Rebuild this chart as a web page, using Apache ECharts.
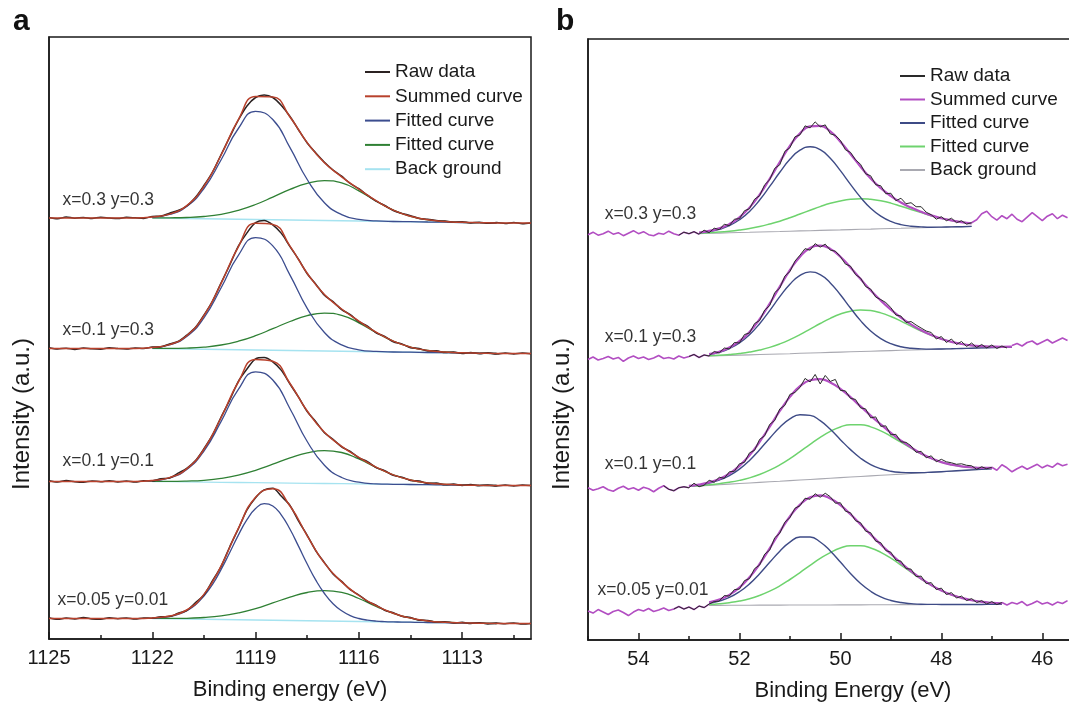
<!DOCTYPE html>
<html lang="en">
<head>
<meta charset="utf-8">
<title>XPS peak fits</title>
<script src="https://cdn.jsdelivr.net/npm/echarts@6.0.0/dist/echarts.min.js"></script>
<style>
    html, body { margin: 0; padding: 0; background: #fff; overflow: hidden; }
    /* the right panel's axis runs past the window edge, as in the cropped figure */
    #chart { width: 1130px; height: 707px; }
</style>
</head>
<body>
<div id="chart"></div>
<script>
// ---------- panel a : binding energy 1125 -> 1111 eV (offset stack, a.u.) ----------
var aX = [1125,1124.5,1124,1123.5,1123,1122.5,1122,1121.5,1121,1120.5,1120,1119.5,1119,1118.5,1118,1117.5,1117,1116.5,1116,1115.5,1115,1114.5,1114,1113.5,1113,1112.5,1112,1111.5,1111];
var aFitX = [1122,1121.5,1121,1120.5,1120,1119.5,1119,1118.5,1118,1117.5,1117,1116.5,1116,1115.5,1115,1114.5,1114,1113.5,1113,1112.5,1112];
var aFineX = [1122,1121.75,1121.5,1121.25,1121,1120.75,1120.5,1120.25,1120,1119.75,1119.5,1119.25,1119,1118.75,1118.5,1118.25,1118,1117.75,1117.5,1117.25,1117,1116.75,1116.5,1116.25,1116,1115.75,1115.5,1115.25,1115,1114.75,1114.5,1114.25,1114,1113.75,1113.5,1113.25,1113,1112.75,1112.5,1112.25,1112];
var aRawX = [1125,1124.75,1124.5,1124.25,1124,1123.75,1123.5,1123.25,1123,1122.75,1122.5,1122.25,1122,1121.75,1121.5,1121.25,1121,1120.75,1120.5,1120.25,1120,1119.75,1119.5,1119.25,1119,1118.75,1118.5,1118.25,1118,1117.75,1117.5,1117.25,1117,1116.75,1116.5,1116.25,1116,1115.75,1115.5,1115.25,1115,1114.75,1114.5,1114.25,1114,1113.75,1113.5,1113.25,1113,1112.75,1112.5,1112.25,1112,1111.75,1111.5,1111.25,1111];

// x=0.3 y=0.3
var aRaw1 = [421.5,420.3,422,420.8,421.6,420.5,421.8,421,420.4,421.7,421.2,420.6,422.5,423,425.8,428.5,433,441.5,453.5,467,484.5,502,519,533,541.5,544,541.5,533.5,522.5,509,496,486,476.8,469,462.8,455.5,450.3,443.8,437.8,433.5,428.5,425.6,423.4,420.6,419.8,418.4,417.9,416.8,417.3,416,416.8,415.7,416.4,415.5,416.6,415.2,416];
var aSum1 = [421,421,421,421,421,421,422.0,424.9,433.4,452.7,484.0,519.4,542.6,542.1,522.0,496.4,476.2,462.2,449.8,438.3,428.9,422.7,419.2,417.5,416.7,416.3,416.0,416,416];
var aFitB1 = [421.9,424.5,432.4,450.5,479.3,510.5,527.6,519.5,491.4,459.5,436.3,424.4,419.6,418.1,417.5,417.3,417.0,416.8,416.5,416.3,416.0];
var aFitG1 = [421.1,421.2,421.5,422.5,424.7,428.7,434.5,441.9,449.6,455.7,458.4,456.1,448.2,438.0,428.9,422.7,419.2,417.5,416.7,416.3,416.0];
var aBg1 = [421,420.75,420.5,420.25,420,419.75,419.5,419.25,419,418.75,418.5,418.25,418,417.75,417.5,417.25,417,416.75,416.5,416.25,416];

// x=0.1 y=0.3
var aRaw2 = [291.2,290,290.8,289.6,291,290.2,289.8,291.3,290.4,289.9,291.1,290.6,291.9,292.2,295,297.6,303.8,311.4,323.9,338,356.2,374,392.8,406.1,416.3,418.6,414.2,405.6,392.4,379.6,365.2,354.9,343.8,337.3,329.4,324.4,317.3,312.9,306.2,302.7,297.3,295.1,291.3,290.6,288,288.2,286.4,287.1,285.6,286.6,285.2,286.2,284.9,285.9,285.1,286,285.3];
var aSum2 = [290.5,290.5,290.5,290.5,290.5,290.5,291.5,294.4,303.3,323.3,355.7,392.2,415.7,414.6,392.9,365.8,344.4,330.0,317.9,306.8,297.9,291.9,288.6,287.0,286.2,285.8,285.5,285.5,285.5];
var aFitB2 = [291.4,294.1,302.4,321.2,351.2,383.7,401.4,393.1,363.9,330.7,306.5,294.1,289.2,287.6,287.0,286.8,286.5,286.3,286.0,285.8,285.5];
var aFitG2 = [290.6,290.6,290.9,291.9,294.0,297.8,303.3,310.3,317.5,323.4,325.9,323.7,316.2,306.5,297.9,291.9,288.6,287.0,286.2,285.8,285.5];
var aBg2 = [290.5,290.25,290,289.75,289.5,289.25,289,288.75,288.5,288.25,288,287.75,287.5,287.25,287,286.75,286.5,286.25,286,285.75,285.5];

// x=0.1 y=0.1
var aRaw3 = [158.2,157,158.4,157.3,156.8,158.1,157.2,158.3,157,157.9,156.9,158.2,158,160.2,160.9,165.8,170.7,178.2,190.3,204.1,222,239,257.6,270,280.2,281.5,277.2,268.6,255,241.8,227.5,217.3,206.2,199.6,192.2,187.5,181.2,177.3,171.4,168.4,163.6,161.9,158.5,157.9,155.6,155.9,154.2,154.9,153.6,154.4,153.2,154.1,153,153.9,153.1,154,153.4];
var aSum3 = [157.5,157.5,157.5,157.5,157.5,157.5,158.5,161.4,170.2,189.7,221.5,257.0,279.6,277.7,255.5,228.0,206.7,192.7,181.7,171.9,164.1,159.0,156.1,154.7,154.1,153.7,153.5,153.5,153.5];
var aFitB3 = [158.4,161.1,169.4,187.9,217.6,249.6,267.2,259.0,230.3,197.5,173.8,161.5,156.8,155.2,154.7,154.5,154.3,154.1,153.9,153.7,153.5];
var aFitG3 = [157.6,157.6,157.9,158.7,160.6,163.9,168.7,174.8,181.1,186.2,188.4,186.5,180.0,171.6,164.1,159.0,156.1,154.7,154.1,153.7,153.5];
var aBg3 = [157.5,157.3,157.1,156.9,156.7,156.5,156.3,156.1,155.9,155.7,155.5,155.3,155.1,154.9,154.7,154.5,154.3,154.1,153.9,153.7,153.5];

// x=0.05 y=0.01 (main component read on the finer grid, its top sits between 0.5 eV steps)
var aRaw4 = [21.3,19.8,20.9,20,21.4,20.1,19.7,21.2,20.3,21,19.9,21.1,20.7,22.3,22.4,25.9,28.5,36.2,44.1,58.3,72.7,92.3,110.2,129.1,141.3,149.1,150.8,142.7,133.5,117.8,103.7,88.2,76.4,65.1,57.6,49.3,44,37.7,33.9,28.8,26.3,22.6,21.4,18.8,18.6,16.9,17.3,16,16.7,15.5,16.3,15.1,16,15.2,16.1,14.9,15.6];
var aSum4 = [20.5,20.5,20.5,20.5,20.5,20.5,21.1,22.9,29.0,44.6,73.2,110.7,141.8,150.3,133.0,103.2,75.9,57.1,43.5,33.4,25.8,20.9,18.1,16.8,16.2,15.8,15.5,15.5,15.5];
var aFitB4 = [21.0,21.5,22.6,24.6,28.3,34.1,42.9,54.6,69.6,86.5,103.9,119.3,130.4,135.3,133.0,123.9,109.7,92.6,75.0,58.8,45.5,35.3,28.2,23.4,20.5,18.9,17.9,17.4,17.1,16.9,16.8,16.6,16.5,16.4,16.3,16.1,16.0,15.9,15.8,15.6,15.5];
var aFitG4 = [20.6,20.6,20.7,21.5,23.1,26.1,30.4,36.1,41.8,46.5,48.4,46.7,40.5,32.7,25.7,20.9,18.1,16.8,16.2,15.8,15.5];
var aBg4 = [20.5,20.25,20,19.75,19.5,19.25,19,18.75,18.5,18.25,18,17.75,17.5,17.25,17,16.75,16.5,16.25,16,15.75,15.5];

var aMajor = [1125,1122,1119,1116,1113];
var aMinor = [1123.5,1120.5,1117.5,1114.5,1111.5];
var aLabelText = ['x=0.3 y=0.3','x=0.1 y=0.3','x=0.1 y=0.1','x=0.05 y=0.01'];
var aLabelX = [1124.62,1124.62,1124.62,1124.77];
var aLabelY = [439,309,178,39];

// ---------- panel b : binding energy 55 -> 45.5 eV ----------
var bX = [55,54.9,54.8,54.7,54.6,54.5,54.4,54.3,54.2,54.1,
    54,53.9,53.8,53.7,53.6,53.5,53.4,53.3,53.2,53.1,
    53,52.9,52.8,52.7,52.6,52.5,52.4,52.3,52.2,52.1,
    52,51.9,51.8,51.7,51.6,51.5,51.4,51.3,51.2,51.1,
    51,50.9,50.8,50.7,50.6,50.5,50.4,50.3,50.2,50.1,
    50,49.9,49.8,49.7,49.6,49.5,49.4,49.3,49.2,49.1,
    49,48.9,48.8,48.7,48.6,48.5,48.4,48.3,48.2,48.1,
    48,47.9,47.8,47.7,47.6,47.5,47.4,47.3,47.2,47.1,
    47,46.9,46.8,46.7,46.6,46.5,46.4,46.3,46.2,46.1,
    46,45.9,45.8,45.7,45.6,45.5];
var bFitX = [53,52.8,52.6,52.4,52.2,52,51.8,51.6,51.4,51.2,51,50.8,50.6,50.4,50.2,50,49.8,49.6,49.4,49.2,49,48.8,48.6,48.4,48.2,48,47.8,47.6,47.4,47.2,47,46.8,46.6];

// x=0.3 y=0.3
var bRaw1 = [406,408.5,405.5,407,409.5,406.5,408,405,407.5,410,407,409,406,405,407.5,406.5,409.5,407,405.5,408.5,407,
    409,406.5,410.5,408,412.5,411,416.5,415,421.5,422,430,432,441.5,445,456,461,472.5,476,489.5,493,504,506,515,513,519,514,516,507,505.5,500.5,491,488.5,481,476.5,467,465,456,455,447,447.5,440,442.5,437,438,434,434,428.5,426,421.5,424,420,422.5,418,420,416.5,418,
    421,427,429.5,424,420.5,425,422,426.5,421.5,419,423.5,428,424,420,424.5,427,422,425.5,423];
var bSum1 = [null,408.2,409.8,412.3,416.6,423.4,433.1,446.2,462.0,478.8,494.9,507.5,514.4,514.9,509.4,499.1,486.8,474.1,462.3,452.6,444.7,438.2,433.1,428.9,425.3,422.5,420.3,418.6,417.4,null,null,null,null];
var bFitB1 = [null,407.9,409.2,411.3,415.0,420.9,429.3,440.7,454.3,468.5,481.5,490.6,494.0,491.1,482.6,470.1,456.4,443.4,432.5,424.6,419.3,416.1,414.5,413.8,413.5,413.6,413.8,414.0,414.3,null,null,null,null];
var bFitG1 = [null,407.4,408.0,408.6,409.5,410.7,412.2,414.2,416.7,419.5,422.9,426.7,430.4,434.1,437.4,439.8,441.5,442.1,441.4,439.9,437.6,434.5,431.3,428.1,425.0,422.4,420.3,418.6,417.4,null,null,null,null];
var bBg1 = [null,407.1,407.4,407.6,407.9,408.2,408.4,408.7,409.0,409.2,409.5,409.8,410.0,410.3,410.6,410.8,411.1,411.4,411.6,411.9,412.2,412.4,412.7,413.0,413.2,413.5,413.8,414.0,414.3,null,null,null,null];

// x=0.1 y=0.3
var bRaw2 = [281,283.5,280.5,282,284,281.5,283,279,282.5,284.5,282,283.5,281,282.5,285,282,283,281.5,284.5,282.5,284,286,283,285.5,
    284.5,289,287.5,292.5,291.5,298,297.5,306,307.5,317,320,330.5,335,348,352.5,364.5,369,379.5,385.5,392,390.5,397,393.5,396.5,390.5,389.5,384,376.5,374.5,366,362.5,354,351.5,343.5,341,338,333,325.5,324.5,318,319,315.5,312.5,309.5,308,301.5,304,298,301.5,296,299,294,297.5,293,296,292.5,295.5,292,294.5,292.5,295,
    297,294.5,298,299.5,296,298.5,301,297.5,300,302.5,300];
var bSum2 = [null,null,286.4,288.7,292.9,299.3,308.6,321.3,336.9,354.0,370.5,384.0,392.6,395.1,391.8,383.9,373.2,361.5,350.2,340.0,330.9,322.9,316.1,310.3,305.5,301.6,298.6,296.5,295.1,294.3,293.9,293.7,293.8];
var bFitB2 = [null,null,286.1,288.2,291.9,297.6,305.8,316.8,330.0,343.9,356.4,365.3,368.7,365.9,357.7,345.8,332.5,319.9,309.5,301.9,296.8,293.7,292.2,291.6,291.4,291.5,291.7,292.0,292.3,292.6,292.9,293.2,293.5];
var bFitG2 = [null,null,284.7,285.2,286.0,287.0,288.4,290.4,293.1,296.6,300.9,305.9,311.4,317.0,322.2,326.5,329.4,330.6,330.0,327.7,324.0,319.4,314.4,309.5,305.2,301.5,298.6,296.5,295.1,294.3,293.9,293.7,293.8];
var bBg2 = [null,null,284.4,284.7,285.0,285.3,285.6,285.9,286.2,286.5,286.8,287.2,287.5,287.8,288.1,288.4,288.7,289.0,289.3,289.6,289.9,290.2,290.5,290.8,291.1,291.4,291.7,292.0,292.3,292.6,292.9,293.2,293.5];

// x=0.1 y=0.1
var bRaw3 = [152.5,150,151.5,153.5,150.5,149,152,154,151,152.5,150,153,151.5,148.5,152,154.5,151,149.5,152.5,153.5,
    152.5,157,153.5,155,160,158,163,162,168.5,169,176.5,178,187.5,190,201,204.5,216,220,231.5,235,246,248,253,262,258.5,266,256.5,265,259,261,250,249.5,242,241,232.5,231.5,222.5,223.5,214,214.5,205.5,206,198.5,198,194.5,188,189,182.5,184.5,178.5,181,178.5,177.5,176,176.5,175,174.5,171,173.5,171.5,173,
    170,175.5,172.5,168.5,171.5,174,171,173.5,176,172.5,175,173,177,174.5,176];
var bSum3 = [154.4,155.7,157.9,161.3,166.6,174.4,185.0,198.5,213.7,229.4,243.5,254.2,260.2,261.3,258.0,251.5,243.2,234.0,224.8,216.0,207.5,199.8,192.9,186.8,182.0,178.2,175.6,173.9,172.9,172.4,172.4,null,null];
var bFitB3 = [154.2,155.4,157.3,160.2,164.7,171.2,179.9,190.6,202.1,213.0,221.4,225.6,225.0,219.7,211.0,200.7,190.7,182.1,175.7,171.5,169.0,167.9,167.6,167.7,168.1,168.6,169.2,169.8,170.4,171.0,171.6,null,null];
var bFitG3 = [153.9,154.6,155.5,156.6,158.0,159.9,162.4,165.8,170.1,175.4,181.7,188.8,196.0,203.0,209.0,213.4,215.7,215.7,213.5,209.5,204.1,198.1,192.1,186.5,181.9,178.2,175.6,173.9,172.9,172.4,172.4,null,null];
var bBg3 = [153.7,154.3,154.9,155.5,156.1,156.7,157.3,157.9,158.5,159.0,159.6,160.2,160.8,161.4,162.0,162.6,163.2,163.8,164.4,165.0,165.6,166.2,166.8,167.4,168.0,168.6,169.2,169.8,170.4,171.0,171.6,null,null];

// x=0.05 y=0.01
var bRaw4 = [29,27,30.5,28,25.5,28.5,30,27.5,24.5,28,30.5,29,31.5,28.5,30,32,29.5,31,33.5,31,33,30.5,34,32.5,
    36,38.5,39,44.5,44,50.5,51,59.5,61.5,71.5,75,86,90,102.5,107,118,122.5,132,134.5,142,141,146.5,143,147,143.5,137,137.5,129,127.5,119.5,117.5,109,107.5,99,97.5,89.5,88,80,79,71.5,71,63.5,64,56.5,57.5,50.5,52,45.5,47.5,42,44,39.5,41.5,37.5,39.5,36,38.5,35.5,37.5,
    35,37.5,36,38.5,34.5,36.5,39,36,37.5,35,38,36.5,39.5];
var bSum4 = [null,null,37.7,40.6,45.2,52.5,62.8,76.2,91.8,108.3,123.7,135.6,142.9,144.8,141.7,135.0,125.9,115.8,105.7,95.6,86.2,77.2,68.9,61.4,55.0,49.6,45.3,42.2,39.8,38.2,37.3,36.6,null];
var bFitB4 = [null,null,36.8,39.0,42.6,48.3,56.2,66.4,77.8,89.0,98.1,103.1,103.2,98.2,89.2,78.1,66.7,56.6,48.8,43.1,39.6,37.5,36.4,35.8,35.7,35.6,35.5,35.6,35.6,35.6,35.7,35.7,null];
var bFitG4 = [null,null,35.6,36.3,37.4,39.0,41.4,44.7,48.9,54.2,60.6,67.5,74.8,81.7,87.6,92.1,94.4,94.4,92.2,87.8,81.9,75.1,67.9,61.0,54.8,49.5,45.3,42.2,39.8,38.2,37.3,36.6,null];
var bBg4 = [null,null,34.7,34.7,34.8,34.8,34.8,34.9,34.9,34.9,35.0,35.0,35.1,35.1,35.1,35.2,35.2,35.2,35.3,35.3,35.3,35.4,35.4,35.4,35.5,35.5,35.5,35.6,35.6,35.6,35.7,35.7,null];

// fit window (high, low eV) and where the black raw trace is drawn
var bFitRange = [[52.8,47.4],[52.6,46.6],[53,47],[52.6,46.8]];
var bRawRange = [[53.2,47.4],[53,46.7],[53.5,47],[53.3,46.8]];

var bMajor = [54,52,50,48,46];
var bMinor = [55,53,51,49,47,45];
var bLabelText = ['x=0.3 y=0.3','x=0.1 y=0.3','x=0.1 y=0.1','x=0.05 y=0.01'];
var bLabelX = [54.68,54.68,54.68,54.82];
var bLabelY = [427,303,176,50];

var legendNames = {
    aRaw: 'Raw data', aSum: 'Summed curve', aFit1: 'Fitted curve', aFit2: 'Fitted curve', aBg: 'Back ground',
    bRaw: 'Raw data', bSum: 'Summed curve', bFit1: 'Fitted curve', bFit2: 'Fitted curve', bBg: 'Back ground'
};

var FONT = '"Liberation Sans", Arial, sans-serif';
var INK = '#1a1a1a';

function pairs(xs, ys) {
    return xs.map(function (x, i) { return [x, ys[i]]; });
}
function keep(xs, ys, test) {
    return xs.map(function (x, i) { return [x, test(x) ? ys[i] : null]; });
}
function line(name, panel, data, color, width, smooth) {
    return {
        name: name, type: 'line', xAxisIndex: panel * 2, yAxisIndex: panel,
        data: data, symbol: 'none', showSymbol: false, smooth: smooth,
        lineStyle: { color: color, width: width }, itemStyle: { color: color },
        silent: true, animation: false
    };
}
function labels(panel, text, xs, ys) {
    return {
        type: 'scatter', xAxisIndex: panel * 2, yAxisIndex: panel, symbolSize: 1, silent: true,
        itemStyle: { color: 'rgba(0,0,0,0)' },
        label: { show: true, position: 'right', distance: 0, formatter: '{b}', fontSize: 17.5, color: '#000', fontFamily: FONT },
        data: text.map(function (t, i) { return { name: t, value: [xs[i], ys[i]] }; })
    };
}

var aRaw = [aRaw1, aRaw2, aRaw3, aRaw4], aSum = [aSum1, aSum2, aSum3, aSum4];
var aFitB = [aFitB1, aFitB2, aFitB3, aFitB4], aFitG = [aFitG1, aFitG2, aFitG3, aFitG4], aBg = [aBg1, aBg2, aBg3, aBg4];
var aFitBX = [aFitX, aFitX, aFitX, aFineX];
var bRaw = [bRaw1, bRaw2, bRaw3, bRaw4], bSum = [bSum1, bSum2, bSum3, bSum4];
var bFitB = [bFitB1, bFitB2, bFitB3, bFitB4], bFitG = [bFitG1, bFitG2, bFitG3, bFitG4], bBg = [bBg1, bBg2, bBg3, bBg4];

var series = [];
for (var k = 0; k < 4; k++) {
    series.push(line('aBg', 0, pairs(aFitX, aBg[k]), '#a6e3f0', 1.3, false));
    series.push(line('aFit2', 0, pairs(aFitX, aFitG[k]), '#2f8034', 1.3, 0.5));
    series.push(line('aFit1', 0, pairs(aFitBX[k], aFitB[k]), '#3c4d8f', 1.3, 0.5));
    series.push(line('aRaw', 0, pairs(aRawX, aRaw[k]), '#2b2222', 1.5, 0.3));
    series.push(line('aSum', 0, pairs(aX, aSum[k]), '#b8412c', 1.5, 0.5));
}
for (var j = 0; j < 4; j++) {
    var fr = bFitRange[j], rr = bRawRange[j];
    series.push(line('bBg', 1, pairs(bFitX, bBg[j]), '#a9a9b1', 1.1, false));
    series.push(line('bFit2', 1, pairs(bFitX, bFitG[j]), '#6ed36e', 1.5, 0.5));
    series.push(line('bFit1', 1, pairs(bFitX, bFitB[j]), '#3e4b86', 1.4, 0.5));
    series.push(line('bTail', 1, keep(bX, bRaw[j], function (x) { return x >= fr[0] || x <= fr[1]; }), '#b24ec2', 1.6, false));
    series.push(line('bSum', 1, pairs(bFitX, bSum[j]), '#b24ec2', 2.2, 0.5));
    series.push(line('bRaw', 1, keep(bX, bRaw[j], function (x) { return x <= rr[0] && x >= rr[1]; }), '#2a2a2a', 1, false));
}
series.push(labels(0, aLabelText, aLabelX, aLabelY));
series.push(labels(1, bLabelText, bLabelX, bLabelY));

function xAxes(panel, min, max, major, minor, title) {
    var lineStyle = { color: INK, width: 1.5 };
    return [{
        gridIndex: panel, type: 'value', min: min, max: max, inverse: true, position: 'bottom',
        axisLine: { show: true, onZero: false, lineStyle: lineStyle },
        axisTick: { show: true, inside: true, length: 7, customValues: major, lineStyle: lineStyle },
        axisLabel: {
            show: true, customValues: major, margin: 9, fontSize: 20, color: INK, fontFamily: FONT,
            formatter: function (v) { return String(v); }
        },
        splitLine: { show: false },
        name: title, nameLocation: 'middle', nameGap: 40,
        nameTextStyle: { fontSize: 22, color: INK, fontFamily: FONT }
    }, {
        gridIndex: panel, type: 'value', min: min, max: max, inverse: true, position: 'bottom',
        axisLine: { show: false },
        axisTick: { show: true, inside: true, length: 4, customValues: minor, lineStyle: lineStyle },
        axisLabel: { show: false },
        splitLine: { show: false }
    }];
}
function yAxis(panel) {
    return {
        gridIndex: panel, type: 'value', min: 0, max: 602,
        axisLine: { show: true, lineStyle: { color: INK, width: 1.5 } },
        axisTick: { show: false }, axisLabel: { show: false }, splitLine: { show: false }
    };
}
function legend(keys, left, top, width, gap) {
    return {
        orient: 'vertical', left: left, top: top, padding: 0, itemWidth: width, itemHeight: 12, itemGap: gap,
        selectedMode: false, data: keys,
        itemStyle: { opacity: 0 },
        formatter: function (n) { return legendNames[n]; },
        textStyle: { fontSize: 19, lineHeight: 20, color: INK, fontFamily: FONT }
    };
}
// the intensity titles sit lower than the middle of the frame in the original figure
function yTitle(x, y) {
    return {
        type: 'text', x: x, y: y, rotation: Math.PI / 2,
        style: { text: 'Intensity (a.u.)', font: '24px ' + FONT, fill: INK, align: 'center', verticalAlign: 'middle' }
    };
}

var chartDom = document.getElementById('chart');
var myChart = echarts.init(chartDom);
var option = {
    animation: false,
    backgroundColor: '#fff',
    grid: [
        { left: 49, width: 482, top: 37, bottom: 68, show: true, borderColor: INK, borderWidth: 1.5 },
        { left: 588, right: 12, top: 39, bottom: 66, show: true, borderColor: INK, borderWidth: 1.5 }
    ],
    xAxis: xAxes(0, 1111, 1125, aMajor, aMinor, 'Binding energy (eV)')
        .concat(xAxes(1, 44.5, 55, bMajor, bMinor, 'Binding Energy (eV)')),
    yAxis: [yAxis(0), yAxis(1)],
    legend: [
        legend(['aRaw', 'aSum', 'aFit1', 'aFit2', 'aBg'], 364, 62, 25, 4.3),
        legend(['bRaw', 'bSum', 'bFit1', 'bFit2', 'bBg'], 899, 66, 25, 3.5)
    ],
    graphic: [
        { type: 'text', left: 13, top: 7, style: { text: 'a', font: 'bold 30px ' + FONT, fill: '#111' } },
        { type: 'text', left: 556, top: 7, style: { text: 'b', font: 'bold 30px ' + FONT, fill: '#111' } },
        yTitle(22, 414),
        yTitle(562, 414)
    ],
    series: series
};
option && myChart.setOption(option);
</script>
</body>
</html>
